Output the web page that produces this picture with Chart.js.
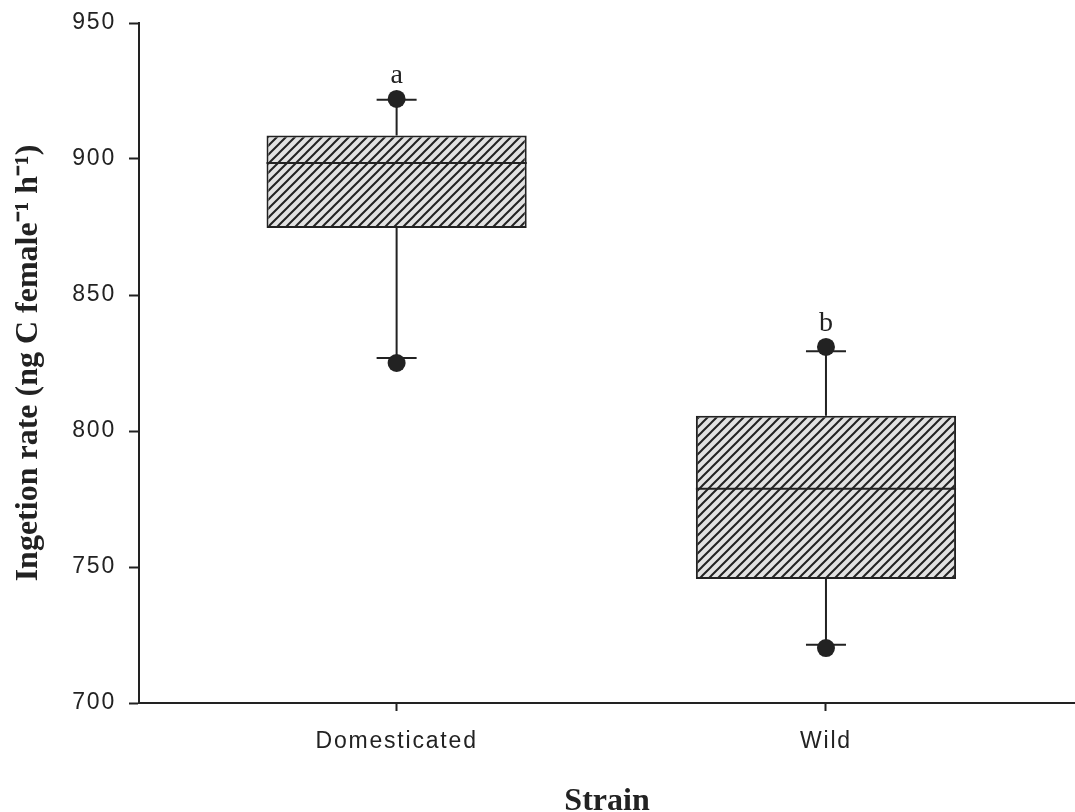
<!DOCTYPE html>
<html>
<head>
<meta charset="utf-8">
<script src="https://cdn.jsdelivr.net/npm/chart.js@4.4.1/dist/chart.umd.min.js"></script>
<style>
  html, body { margin: 0; padding: 0; background: #fff; }
  #wrap { width: 1075px; height: 812px; }
</style>
</head>
<body>
<div id="wrap"><canvas id="chart" width="1075" height="812"></canvas></div>
<script>
// Ingestion rate by strain, box plot values
const categories = ["Domesticated", "Wild"];
const xPositions = [1, 2];
const q1 = [874.6, 745.6];
const medians = [898.5, 778.8];
const q3 = [908.6, 805.6];
const whiskerLow = [826.8, 721.4];
const whiskerHigh = [921.8, 829.3];
const outliersLow = [825.0, 720.2];
const outliersHigh = [922.1, 830.9];
const groupLetters = ["a", "b"];
const yTicks = [700, 750, 800, 850, 900, 950];

const INK = "#222";
const SANS = "'Liberation Sans', Arial, sans-serif";
const SERIF = "'Liberation Serif', 'Times New Roman', serif";

// diagonal hatch fill for the boxes
function makeHatch() {
  const s = 9;
  const c = document.createElement("canvas");
  c.width = s;
  c.height = s;
  const g = c.getContext("2d");
  g.fillStyle = "#e2e2e2";
  g.fillRect(0, 0, s, s);
  g.strokeStyle = INK;
  g.lineWidth = 2;
  g.beginPath();
  g.moveTo(0, s); g.lineTo(s, 0);
  g.moveTo(-s / 2, s / 2); g.lineTo(s / 2, -s / 2);
  g.moveTo(s / 2, s * 1.5); g.lineTo(s * 1.5, s / 2);
  g.stroke();
  return g.createPattern(c, "repeat");
}

// whiskers, caps, medians and group letters
const boxPlot = {
  id: "boxPlot",
  beforeDatasetsDraw(chart) {
    const { ctx, scales: { x, y } } = chart;
    ctx.save();
    ctx.strokeStyle = INK;
    ctx.lineWidth = 2;
    xPositions.forEach((v, i) => {
      const px = x.getPixelForValue(v);
      ctx.beginPath();
      ctx.moveTo(px, y.getPixelForValue(whiskerHigh[i]));
      ctx.lineTo(px, y.getPixelForValue(q3[i]));
      ctx.moveTo(px, y.getPixelForValue(q1[i]));
      ctx.lineTo(px, y.getPixelForValue(whiskerLow[i]));
      [whiskerHigh[i], whiskerLow[i]].forEach((w) => {
        const py = y.getPixelForValue(w);
        ctx.moveTo(px - 20, py);
        ctx.lineTo(px + 20, py);
      });
      ctx.stroke();
    });
    ctx.restore();
  },
  afterDatasetsDraw(chart) {
    const { ctx, scales: { x, y } } = chart;
    const bars = chart.getDatasetMeta(0).data;
    ctx.save();
    ctx.strokeStyle = INK;
    ctx.lineWidth = 2;
    bars.forEach((bar, i) => {
      const py = y.getPixelForValue(medians[i]);
      ctx.beginPath();
      ctx.moveTo(bar.x - bar.width / 2, py);
      ctx.lineTo(bar.x + bar.width / 2, py);
      ctx.stroke();
    });
    ctx.fillStyle = INK;
    ctx.font = "28px " + SERIF;
    ctx.textAlign = "center";
    ctx.textBaseline = "alphabetic";
    xPositions.forEach((v, i) => {
      const top = Math.max(outliersHigh[i], whiskerHigh[i]);
      ctx.fillText(groupLetters[i], x.getPixelForValue(v), y.getPixelForValue(top) - 16);
    });
    ctx.restore();
    // tick labels (z: 1) are drawn after this point, spaced out like the original
    ctx.letterSpacing = "1.8px";
  },
  afterDraw(chart) {
    chart.ctx.letterSpacing = "0px";
  }
};

const tickFont = { family: SANS, size: 23 };

new Chart(document.getElementById("chart"), {
  type: "bar",
  data: {
    datasets: [
      {
        label: "IQR",
        data: xPositions.map((v, i) => ({ x: v, y: [q1[i], q3[i]] })),
        backgroundColor: makeHatch(),
        borderColor: INK,
        borderWidth: 2,
        borderSkipped: false,
        barPercentage: 1,
        categoryPercentage: 0.606
      },
      {
        type: "scatter",
        label: "Outliers",
        data: xPositions.flatMap((v, i) => [
          { x: v, y: outliersHigh[i] },
          { x: v, y: outliersLow[i] }
        ]),
        pointRadius: 9,
        pointBackgroundColor: INK,
        pointBorderWidth: 0
      }
    ]
  },
  options: {
    responsive: false,
    animation: false,
    layout: { autoPadding: false, padding: { top: 23, right: 0, left: 0, bottom: 0 } },
    plugins: { legend: { display: false }, tooltip: { enabled: false } },
    scales: {
      x: {
        type: "linear",
        offset: false,
        min: 0.4,
        max: 2.58,
        afterBuildTicks: (s) => { s.ticks = xPositions.map((v) => ({ value: v })); },
        afterFit: (s) => { s.height = 109; s.paddingLeft = 0; s.paddingRight = 0; },
        ticks: {
          z: 1,
          padding: 17,
          color: INK,
          font: tickFont,
          autoSkip: false,
          maxRotation: 0,
          callback: (v) => categories[xPositions.indexOf(v)] ?? ""
        },
        grid: { offset: false, drawOnChartArea: false, drawTicks: true, tickLength: 8, tickWidth: 2, tickColor: INK },
        border: { display: true, color: INK, width: 2 },
        title: {
          display: true,
          text: "Strain",
          color: INK,
          font: { family: SERIF, size: 32, weight: "bold", lineHeight: 0.45 },
          padding: { top: 0, bottom: 3 }
        }
      },
      y: {
        type: "linear",
        min: 700,
        max: 950,
        afterBuildTicks: (s) => { s.ticks = yTicks.map((v) => ({ value: v })); },
        afterFit: (s) => { s.width = 139; s.paddingTop = 0; s.paddingBottom = 0; },
        ticks: { z: 1, padding: 13, color: INK, font: tickFont },
        grid: { drawOnChartArea: false, drawTicks: true, tickLength: 10, tickWidth: 2, tickColor: INK },
        border: { display: true, color: INK, width: 2 },
        title: {
          display: true,
          text: "Ingetion rate (ng C female\u207B\u00B9 h\u207B\u00B9)",
          color: INK,
          font: { family: SERIF, size: 32, weight: "bold", lineHeight: 0.75 },
          padding: { top: 17, bottom: 0 }
        }
      }
    }
  },
  plugins: [boxPlot]
});
</script>
</body>
</html>
